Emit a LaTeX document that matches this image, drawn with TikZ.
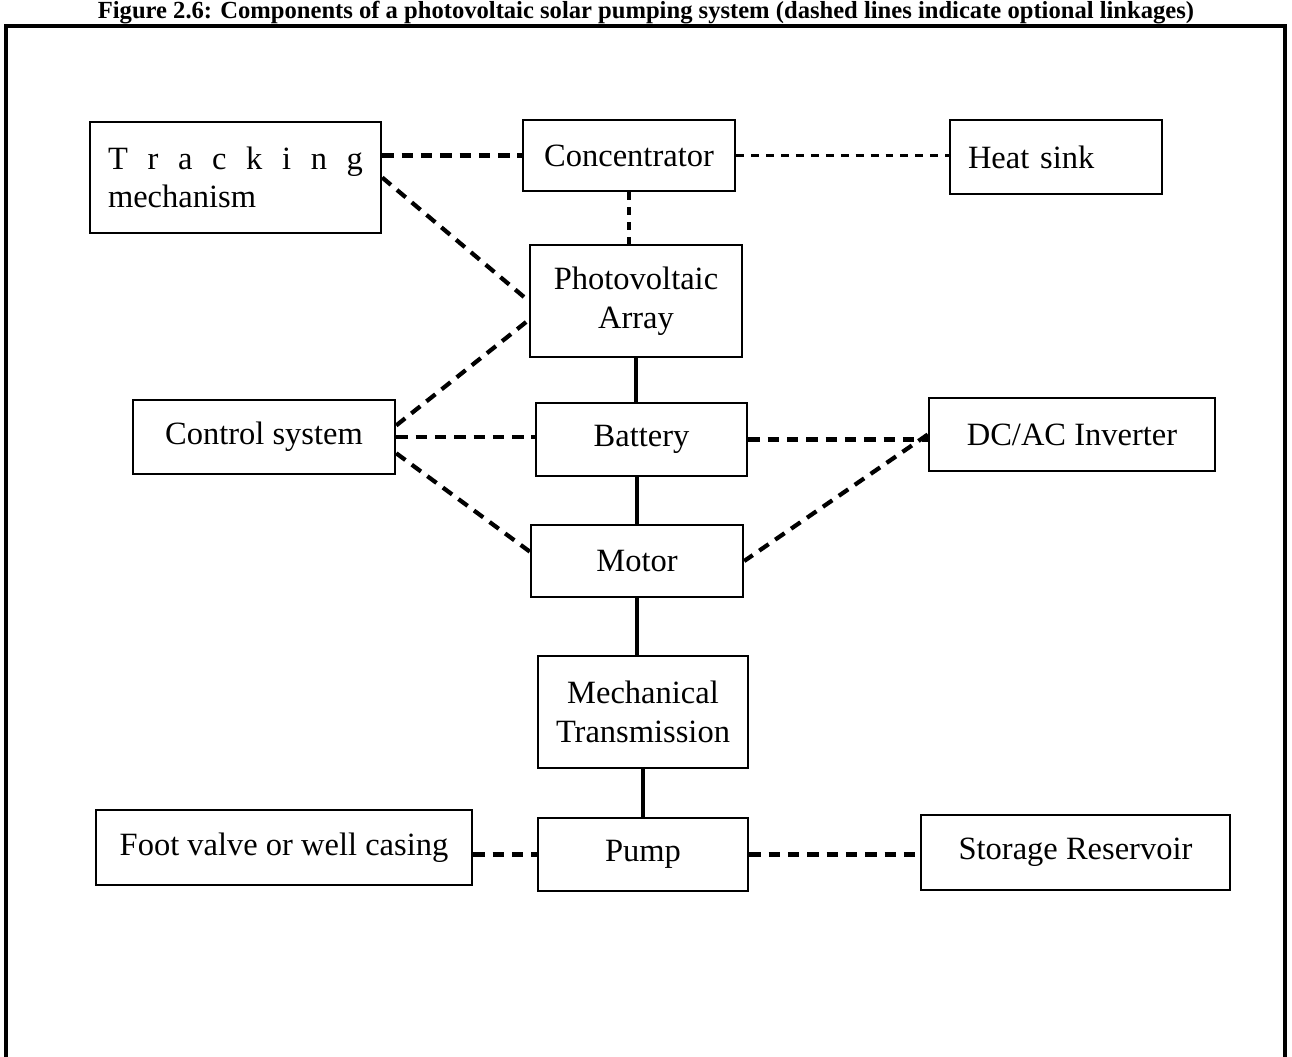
\documentclass[tikz,border=0pt]{standalone}
\usepackage{fontspec}
\setmainfont{Liberation Serif}
\usetikzlibrary{calc}
\tikzset{
  blk/.style     = {draw, line width=1.4pt, inner sep=0pt, align=center,
                    font=\fontsize{18.5}{22}\selectfont},
  lnk/.style     = {line width=2.2pt},
  optlnk/.style  = {line width=2.4pt, dash pattern=on 6.5pt off 4.5pt},
  optfine/.style = {line width=1.8pt, dash pattern=on 4.5pt off 4pt},
}

\begin{document}
\begin{tikzpicture}[x=0.02cm, y=-0.02cm]
  \useasboundingbox (0,0) rectangle (1292,1056);
  \clip (0,0) rectangle (1292,1056);
  \node[anchor=base, inner sep=0pt, font=\fontsize{14}{17}\selectfont\bfseries] (cap) at (646,18)
    {Figure 2.6: Components of a photovoltaic solar pumping system (dashed lines indicate optional linkages)};
  \draw[line width=2.3pt] (6,1100) -- (6,26) -- (1285,26) -- (1285,1100);
  \node[blk, minimum width=5.82cm, minimum height=2.22cm, text width=5.1cm, align=left] (trk) at (235.5,177.5)
    {\hbox to 5.1cm{T\hfil r\hfil a\hfil c\hfil k\hfil i\hfil n\hfil g}\\mechanism};
  \node[blk, minimum width=4.24cm, minimum height=1.42cm] (conc) at (629,155.5) {Concentrator};
  \node[blk, minimum width=4.24cm, minimum height=1.48cm, text width=3.52cm, align=left] (heat) at (1056,157) {Heat sink};
  \node[blk, minimum width=4.24cm, minimum height=2.24cm] (pv) at (636,301) {Photovoltaic\\Array};
  \node[blk, minimum width=5.24cm, minimum height=1.48cm] (ctrl) at (264,437) {Control system};
  \node[blk, minimum width=4.22cm, minimum height=1.46cm] (batt) at (641.5,439.5) {Battery};
  \node[blk, minimum width=5.72cm, minimum height=1.46cm] (inv) at (1072,434.5) {DC/AC Inverter};
  \node[blk, minimum width=4.24cm, minimum height=1.44cm] (motor) at (637,561) {Motor};
  \node[blk, minimum width=4.2cm, minimum height=2.24cm] (mech) at (643,712) {Mechanical\\Transmission};
  \node[blk, minimum width=7.52cm, minimum height=1.5cm] (foot) at (284,847.5) {Foot valve or well casing};
  \node[blk, minimum width=4.2cm, minimum height=1.46cm] (pump) at (643,854.5) {Pump};
  \node[blk, minimum width=6.18cm, minimum height=1.5cm] (stor) at (1075.5,852.5) {Storage Reservoir};
  \draw[optlnk] (trk.east |- conc.west) -- (conc.west);
  \draw[optfine] (conc.east) -- (conc.east -| heat.west);
  \draw[optfine] (conc.south) -- (conc.south |- pv.north);
  \draw[optlnk] (trk.east) -- (pv.west);
  \draw[optlnk] (ctrl.5) -- (pv.190);
  \draw[optlnk] (ctrl.east) -- (ctrl.east -| batt.west);
  \draw[optlnk] (ctrl.-7) -- (motor.175);
  \draw[optlnk] (batt.east) -- (batt.east -| inv.west);
  \draw[optlnk] (inv.west) -- (motor.east);
  \draw[optlnk] (foot.east |- pump.west) -- (pump.west);
  \draw[optlnk] (pump.east) -- (pump.east -| stor.west);
  \draw[lnk] (pv.south) -- (pv.south |- batt.north);
  \draw[lnk] (motor.north |- batt.south) -- (motor.north);
  \draw[lnk] (motor.south) -- (motor.south |- mech.north);
  \draw[lnk] (mech.south) -- (pump.north);
\end{tikzpicture}
\end{document}
